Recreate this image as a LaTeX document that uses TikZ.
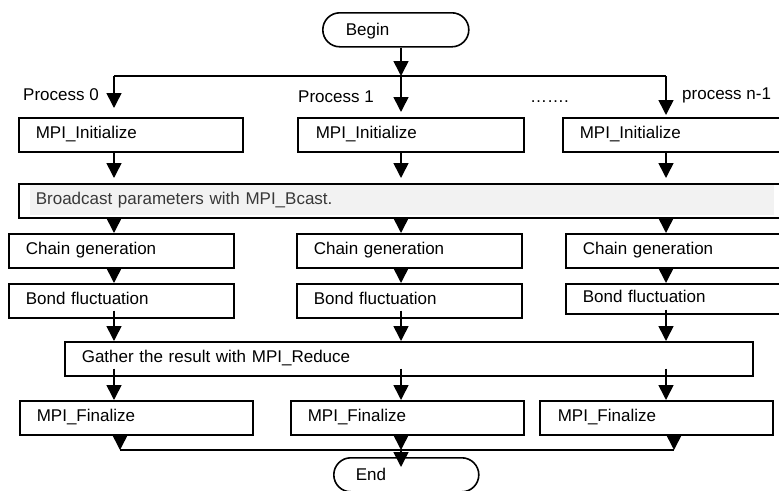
\documentclass[tikz,border=0pt]{standalone}
\usepackage{fontspec}
\setmainfont{Liberation Sans}
\usetikzlibrary{arrows.meta,calc}
\begin{document}
\begin{tikzpicture}[x=1pt,y=-1pt,
  font=\fontsize{17pt}{20pt}\selectfont,
  ln/.style={line width=1.6pt},
  bx/.style={draw, line width=1.6pt, anchor=north west, minimum height=34pt,
    inner xsep=17pt, inner ysep=0pt, align=left, text width=#1,
    text height=11pt, text depth=4pt},
  term/.style={draw, line width=1.6pt, rounded corners=17pt, anchor=north west,
    minimum height=34pt, inner ysep=0pt, align=left, text width=#1,
    text height=12pt, text depth=1pt},
  arr/.style={line width=1.6pt, -{Triangle[width=15pt,length=15pt]}},
  lbl/.style={anchor=base west, inner sep=0pt}]
\clip (0,0) rectangle (779,490);
\fill[white] (0,0) rectangle (779,490);

% terminators
\node[term=100pt, inner xsep=23pt] (begin) at (322,12) {Begin};
\node[term=101pt, inner xsep=22pt] (end) at (333,457) {End};

% labels
\node[lbl] (p0) at (23,100) {Process 0};
\node[lbl] (p1) at (298,102) {Process 1};
\node[lbl] (pd) at (530,102) {…….};
\node[lbl] (pn) at (682,99) {process n-1};

% split coordinates
\coordinate (s0) at (114,76);
\coordinate (s1) at (401,76);
\coordinate (s2) at (666,76);

% MPI_Initialize
\node[bx=190pt] (i0) at (18,117) {MPI\_Initialize};
\node[bx=190pt, inner xsep=18pt] (i1) at (297,117) {MPI\_Initialize};
\node[bx=206pt] (i2) at (562,117) {MPI\_Initialize};

% Broadcast
\fill[black!5] (30,185) rectangle (774,215);
\node[bx=736pt, text=black!78] (bc) at (18,183) {Broadcast parameters with MPI\_Bcast.};

% Chain generation
\node[bx=191pt] (c0) at (8,233) {Chain generation};
\node[bx=191pt] (c1) at (296,233) {Chain generation};
\node[bx=196pt] (c2) at (565,233) {Chain generation};

% Bond fluctuation
\node[bx=191pt] (b0) at (8,283) {Bond fluctuation};
\node[bx=191pt] (b1) at (296,283) {Bond fluctuation};
\node[bx=196pt, minimum height=30pt] (b2) at (565,283) {Bond fluctuation};

% Gather
\node[bx=654pt] (g) at (64,341) {Gather the result with MPI\_Reduce};

% Finalize
\node[bx=199pt] (f0) at (19,400) {MPI\_Finalize};
\node[bx=199pt] (f1) at (290,400) {MPI\_Finalize};
\node[bx=197pt, inner xsep=18pt] (f2) at (539,400) {MPI\_Finalize};

% join coordinates
\coordinate (j0) at (120,450);
\coordinate (j1) at (401,450);
\coordinate (j2) at (674,450);

% connectors
\draw[arr] (begin.south -| s1) -- (s1);
\draw[ln] (s0) -- (s2);
\draw[arr, shorten >=9pt] (s0) -- (i0.north -| s0);
\draw[arr, shorten >=5pt] (s1) -- (i1.north -| s1);
\draw[arr, shorten >=2pt] (s2) -- (i2.north -| s2);

\draw[arr, shorten >=5pt] (i0.south -| s0) -- (bc.north -| s0);
\draw[arr, shorten >=5pt] (i1.south -| s1) -- (bc.north -| s1);
\draw[arr, shorten >=5pt] (i2.south -| s2) -- (bc.north -| s2);

\draw[arr] (bc.south -| s0) -- (c0.north -| s0);
\draw[arr] (bc.south -| s1) -- (c1.north -| s1);
\draw[arr] (bc.south -| s2) -- (c2.north -| s2);

\draw[arr] (c0.south -| s0) -- (b0.north -| s0);
\draw[arr] (c1.south -| s1) -- (b1.north -| s1);
\draw[arr] (c2.south -| s2) -- (b2.north -| s2);

\draw[arr, shorten <=-8pt] (b0.south -| s0) -- (g.north -| s0);
\draw[arr, shorten <=-8pt] (b1.south -| s1) -- (g.north -| s1);
\draw[arr, shorten <=-5pt] (b2.south -| s2) -- (g.north -| s2);

\draw[arr, shorten <=-8pt] (g.south -| s0) -- (f0.north -| s0);
\draw[arr, shorten <=-8pt] (g.south -| s1) -- (f1.north -| s1);
\draw[arr, shorten <=-8pt] (g.south -| s2) -- (f2.north -| s2);

\draw[arr] (f0.south -| j0) -- (j0);
\draw[arr] (f1.south -| j1) -- (j1);
\draw[arr] (f2.south -| j2) -- (j2);
\draw[ln] (j0) -- (j2);
\draw[arr, shorten >=-10pt] (j1) -- (end.north -| j1);
\end{tikzpicture}
\end{document}
